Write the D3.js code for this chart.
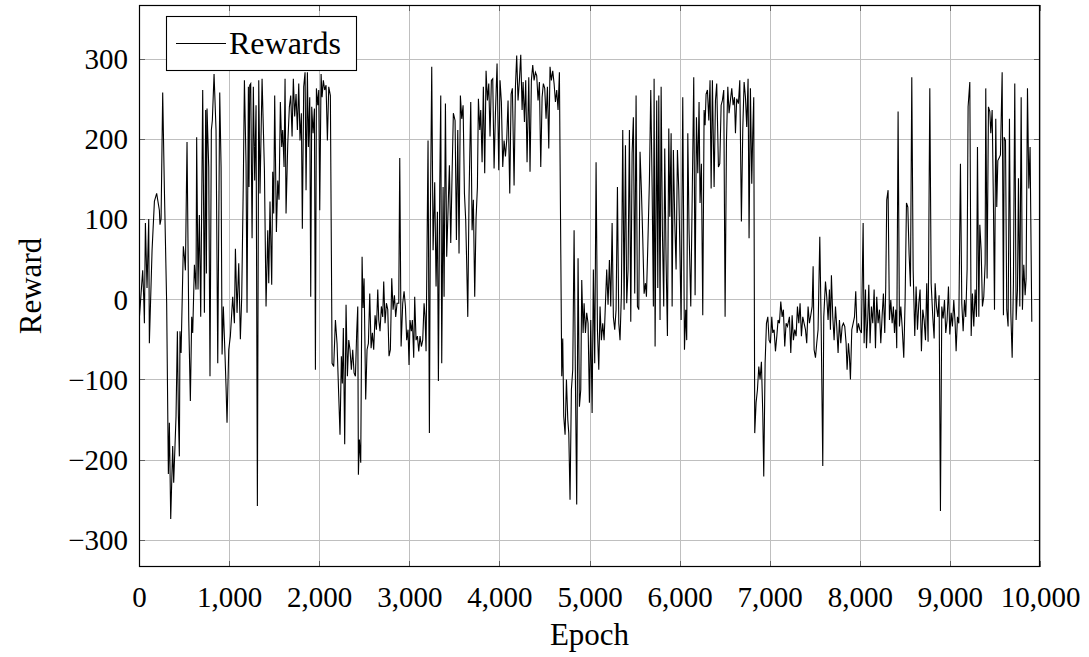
<!DOCTYPE html>
<html><head><meta charset="utf-8">
<script src="https://cdn.jsdelivr.net/npm/d3@7"></script>
<style>
body{margin:0;background:#fff;}
text{font-family:"Liberation Serif","DejaVu Serif",serif;fill:#000;}
</style></head>
<body><svg id="c" width="1089" height="657"></svg>
<script>
// ---- data: [epoch, reward] ----
const segA = [[0,-30],[41,36],[52,3],[60,-30],[71,95],[89,14],[108,100],[115,-55],[145,61],[171,122],[196,132],[226,111],[233,93],[245,100],[263,258],[282,136],[307,-5],[326,-218],[337,-154],[352,-274],[374,-183],[385,-229],[411,-146],[426,-40],[437,-144],[448,-196],[455,-40],[467,-67],[492,66],[504,53],[515,36],[533,196],[552,-26],[570,-127],[585,-22],[596,-42],[615,43],[633,12],[640,202],[655,12],[670,105],[685,-22],[707,261],[726,-17],[740,236],[748,32],[755,238],[774,165],[788,-96],[803,211],[814,223],[833,281],[855,211],[874,-80],[896,258],[911,165],[922,-69],[936,-9],[955,-71],[966,-109],[977,-154],[996,-63],[1014,-46],[1040,3],[1059,-30],[1070,63],[1088,-17],[1107,45],[1125,-50],[1140,3],[1158,148],[1170,273],[1188,169],[1199,-17],[1214,265],[1221,140],[1229,267],[1240,269],[1255,76],[1269,265],[1284,148],[1299,242],[1314,-258],[1329,273],[1343,132],[1366,275],[1392,161],[1410,-9],[1429,86]];
const segB = [[1440,20],[1454,122],[1473,18],[1484,159],[1495,107],[1506,254],[1525,84],[1540,148],[1554,124],[1569,246],[1584,190],[1595,211],[1610,165],[1621,275],[1632,107],[1651,194],[1669,240],[1684,254],[1699,203],[1713,275],[1728,228],[1743,256],[1758,211],[1773,269],[1787,198],[1802,232],[1813,88],[1828,265],[1843,283],[1854,136],[1869,283],[1880,190],[1895,252],[1906,3],[1917,240],[1932,207],[1947,238],[1958,-88],[1969,263],[1984,242],[1995,261],[2006,111],[2021,281],[2032,252],[2046,273],[2061,261],[2076,267],[2091,198],[2106,265],[2124,254],[2143,-80],[2161,-84],[2180,-26],[2198,-55],[2217,-121],[2231,-169],[2246,-71],[2257,-105],[2268,-36],[2283,-181],[2298,-7],[2313,-96],[2328,-51],[2342,-63],[2357,-88],[2372,-63],[2387,-92],[2402,-96],[2416,-42],[2428,-9],[2435,-219],[2446,-175],[2461,-204],[2476,53],[2487,-11],[2498,26],[2516,-125],[2531,-63],[2546,-55],[2561,7],[2576,-61],[2590,-42],[2605,-63],[2620,-20],[2635,-38],[2650,12],[2661,-26],[2675,-40],[2690,-9],[2705,-22],[2716,22],[2731,-30],[2746,-5],[2761,-13],[2775,-71],[2790,-63],[2805,26],[2820,-13],[2835,5],[2849,-22],[2864,-5]];
const segC = [[2883,-5],[2894,176],[2909,-59],[2927,-5],[2942,10],[2957,-9],[2971,-51],[2986,-38],[2997,-82],[3008,-26],[3023,-40],[3034,-26],[3049,-73],[3060,3],[3075,-51],[3090,-46],[3105,-65],[3119,-46],[3134,-59],[3149,-51],[3164,-5],[3175,-22],[3186,-65],[3208,198],[3223,-167],[3234,103],[3249,290],[3264,61],[3282,146],[3297,16],[3312,109],[3323,-102],[3338,140],[3349,254],[3360,-80],[3375,140],[3386,3],[3401,244],[3415,53],[3430,111],[3445,167],[3460,70],[3475,157],[3489,232],[3508,223],[3523,74],[3538,211],[3552,57],[3567,254],[3582,225],[3597,242],[3612,132],[3626,99],[3637,45],[3649,-22],[3663,128],[3682,246],[3697,86],[3711,124],[3726,3],[3741,101],[3756,140],[3767,250],[3782,211],[3793,236],[3808,171],[3822,265],[3837,157],[3852,285],[3867,248],[3882,269],[3896,203],[3911,273],[3926,275],[3941,163],[3956,232],[3974,294],[3993,161],[4007,273],[4022,246],[4037,165],[4052,198],[4067,178],[4081,198],[4096,248],[4115,132],[4130,256],[4144,263],[4163,142],[4178,265],[4192,304],[4207,248],[4222,273],[4237,305],[4252,236],[4263,271],[4278,221],[4292,273],[4307,171]];
const segD = [[4326,277],[4340,159],[4355,273],[4370,292],[4385,273],[4400,283],[4414,279],[4429,248],[4444,271],[4459,165],[4474,252],[4488,269],[4503,263],[4518,225],[4533,265],[4548,188],[4562,290],[4577,273],[4592,285],[4607,269],[4622,246],[4636,261],[4651,236],[4666,283],[4692,-96],[4703,-49],[4714,-146],[4729,-169],[4744,-100],[4759,-150],[4770,-167],[4784,-250],[4799,-113],[4814,-88],[4829,86],[4844,-105],[4858,-256],[4873,51],[4888,-134],[4903,-113],[4914,24],[4929,-42],[4940,-5],[4955,-42],[4969,-17],[4984,-30],[4999,-129],[5014,-26],[5029,-142],[5043,37],[5058,-80],[5073,171],[5088,-38],[5103,-88],[5117,-9],[5132,-51],[5147,-30],[5162,-51],[5177,-5],[5191,37],[5206,-7],[5221,49],[5236,-9],[5251,95],[5265,-22],[5280,-38],[5295,-13],[5310,140],[5325,-30],[5339,-51],[5354,7],[5369,211],[5384,-13],[5399,192],[5413,-5],[5428,37],[5443,211],[5458,-28],[5473,182],[5487,227],[5502,7],[5517,254],[5532,-9],[5547,-13],[5561,184],[5576,136],[5591,76],[5606,7],[5621,20],[5632,3],[5647,66],[5665,148],[5680,261],[5695,140],[5709,-9],[5717,275],[5728,-59],[5746,248],[5758,14]];
const segE = [[5769,254],[5783,-26],[5795,265],[5809,86],[5824,-9],[5835,188],[5850,49],[5865,-46],[5880,213],[5891,103],[5906,207],[5917,-9],[5931,186],[5946,99],[5961,37],[5976,186],[5991,136],[6005,49],[6017,-26],[6035,252],[6054,-63],[6068,-13],[6079,-51],[6091,207],[6105,86],[6124,-9],[6139,120],[6157,277],[6172,5],[6187,227],[6202,157],[6216,246],[6227,120],[6242,169],[6257,-20],[6272,236],[6283,217],[6294,256],[6309,261],[6324,223],[6338,273],[6350,138],[6364,273],[6383,140],[6398,248],[6412,269],[6431,165],[6446,169],[6461,242],[6475,248],[6490,261],[6505,-22],[6520,196],[6535,265],[6549,232],[6564,248],[6579,263],[6594,242],[6609,252],[6620,207],[6634,250],[6653,244],[6668,273],[6686,97],[6701,211],[6716,271],[6731,252],[6745,215],[6760,275],[6771,76],[6786,263],[6801,144],[6812,207],[6823,252],[6834,-167],[6849,-129],[6864,-113],[6879,-84],[6893,-100],[6908,-78],[6923,-142],[6934,-221],[6949,-80],[6964,-30],[6979,-22],[6993,-51],[7008,-55],[7023,-22],[7034,-42],[7049,-38],[7064,-65],[7079,-46],[7093,-26],[7108,-30],[7123,-3],[7138,-22],[7152,-13],[7167,-59],[7182,-30],[7197,-34]];
const segF = [[7219,-22],[7234,-67],[7249,-20],[7263,-51],[7278,-38],[7293,-46],[7308,-9],[7323,-30],[7337,-5],[7352,-46],[7367,-22],[7382,-30],[7397,-38],[7411,-55],[7426,-9],[7441,-30],[7456,-20],[7471,-9],[7482,41],[7493,-63],[7508,-73],[7522,-55],[7537,-38],[7556,78],[7571,-30],[7589,-208],[7600,-22],[7619,22],[7633,3],[7648,-26],[7663,12],[7674,-38],[7685,30],[7700,-22],[7715,-51],[7730,-9],[7744,-34],[7759,-67],[7774,-26],[7789,-55],[7804,-34],[7818,-30],[7833,-34],[7848,-55],[7859,-88],[7874,-55],[7885,-71],[7896,-100],[7911,-38],[7926,-30],[7941,-22],[7955,10],[7970,-42],[7985,-30],[8000,-38],[8018,-42],[8037,95],[8048,-55],[8063,12],[8074,-61],[8089,-22],[8100,18],[8114,-55],[8129,-9],[8144,-30],[8159,12],[8174,-61],[8188,3],[8203,-30],[8218,-13],[8233,-55],[8248,-20],[8262,7],[8277,-42],[8288,16],[8299,124],[8314,136],[8329,-26],[8344,-1],[8359,-30],[8373,-9],[8385,-42],[8399,-13],[8410,-61],[8425,234],[8440,-34],[8455,-9],[8470,-34],[8488,-73],[8503,-1],[8518,120],[8533,115],[8547,57],[8562,16],[8577,277],[8592,37],[8610,-46],[8625,16],[8640,-38]];
const segG = [[8655,-5],[8669,12],[8684,-65],[8699,-13],[8714,-26],[8729,-51],[8743,20],[8758,-53],[8777,263],[8792,20],[8810,-22],[8825,-49],[8836,20],[8851,-9],[8866,-22],[8880,5],[8895,-264],[8910,-9],[8925,-24],[8940,-1],[8954,-42],[8969,-26],[8984,16],[8999,-44],[9014,-17],[9028,-34],[9043,-1],[9058,-30],[9069,-65],[9084,-22],[9099,-30],[9117,169],[9132,-5],[9147,-40],[9162,-1],[9176,-22],[9191,37],[9202,240],[9221,271],[9236,-46],[9250,7],[9265,-34],[9280,12],[9295,-22],[9306,190],[9321,-22],[9332,93],[9347,61],[9361,-9],[9376,3],[9391,45],[9398,263],[9413,26],[9428,240],[9443,234],[9454,207],[9469,236],[9483,120],[9495,-13],[9509,225],[9520,115],[9532,173],[9546,176],[9561,180],[9580,283],[9594,-20],[9602,202],[9617,198],[9631,-13],[9646,-34],[9661,225],[9676,-17],[9691,-73],[9705,20],[9720,269],[9735,-26],[9750,12],[9761,151],[9776,-9],[9791,252],[9805,-13],[9820,43],[9835,5],[9846,26],[9861,263],[9876,138],[9890,190],[9909,-28]];

const xTicks = [0,1000,2000,3000,4000,5000,6000,7000,8000,9000,10000];
const yTicks = [-300,-200,-100,0,100,200,300];
const seriesName = "Rewards";
const xLabel = "Epoch";
const yLabel = "Reward";

const data = [].concat(segA, segB, segC, segD, segE, segF, segG);

const svg = d3.select("#c");
const L = 139, R = 1040, T = 5, B = 567;
const x = d3.scaleLinear().domain([0, 10000]).range([L, R]);
const y = d3.scaleLinear().domain([-334, 367]).range([B, T]);

// grid
const grid = svg.append("g").attr("stroke", "#bfbfbf").attr("stroke-width", 1);
grid.selectAll(".gx").data(xTicks).join("line")
  .attr("x1", d => Math.round(x(d)) + 0.5).attr("x2", d => Math.round(x(d)) + 0.5)
  .attr("y1", T).attr("y2", B);
grid.selectAll(".gy").data(yTicks).join("line")
  .attr("y1", d => Math.round(y(d)) + 0.5).attr("y2", d => Math.round(y(d)) + 0.5)
  .attr("x1", L).attr("x2", R);

// tick marks (inside, all four sides)
const tk = svg.append("g").attr("stroke", "#606060").attr("stroke-width", 1);
xTicks.forEach(d => {
  const px = Math.round(x(d)) + 0.5;
  tk.append("line").attr("x1", px).attr("x2", px).attr("y1", B).attr("y2", B - 6);
  tk.append("line").attr("x1", px).attr("x2", px).attr("y1", T).attr("y2", T + 6);
});
yTicks.forEach(d => {
  const py = Math.round(y(d)) + 0.5;
  tk.append("line").attr("y1", py).attr("y2", py).attr("x1", L).attr("x2", L + 6);
  tk.append("line").attr("y1", py).attr("y2", py).attr("x1", R).attr("x2", R - 6);
});

// line
const clipId = "clipPlot";
svg.append("clipPath").attr("id", clipId).append("rect")
  .attr("x", L).attr("y", T).attr("width", R - L).attr("height", B - T);
svg.append("path").datum(data)
  .attr("clip-path", `url(#${clipId})`)
  .attr("fill", "none").attr("stroke", "#000").attr("stroke-width", 1.1)
  .attr("stroke-linejoin", "miter")
  .attr("d", d3.line().x(d => x(d[0])).y(d => y(d[1])));

// frame
svg.append("rect").attr("x", L + 0.5).attr("y", T + 0.5).attr("width", R - L - 1).attr("height", B - T - 1)
  .attr("fill", "none").attr("stroke", "#000").attr("stroke-width", 1.2);

// axes labels via d3 axes
const fmtX = d3.format(",");
const xAxis = svg.append("g").attr("transform", `translate(0,${B})`)
  .call(d3.axisBottom(x).tickValues(xTicks).tickFormat(fmtX).tickSize(0).tickPadding(19));
xAxis.select(".domain").remove();
xAxis.selectAll("text").attr("font-size", 29).attr("font-family", "Liberation Serif").attr("dy", "0.71em");

const yAxis = svg.append("g").attr("transform", `translate(${L},0)`)
  .call(d3.axisLeft(y).tickValues(yTicks).tickFormat(d3.format("d")).tickSize(0).tickPadding(11));
yAxis.select(".domain").remove();
yAxis.selectAll("text").attr("font-size", 29).attr("font-family", "Liberation Serif").attr("dy", "0.34em");

svg.append("text").attr("x", (L + R) / 2).attr("y", 645).attr("text-anchor", "middle")
  .attr("font-size", 31).text(xLabel);
svg.append("text").attr("transform", `translate(41,${(T + B) / 2}) rotate(-90)`)
  .attr("text-anchor", "middle").attr("font-size", 31).text(yLabel);

// legend
const lg = svg.append("g");
lg.append("rect").attr("x", 166.5).attr("y", 16.5).attr("width", 190).attr("height", 54)
  .attr("fill", "#fff").attr("stroke", "#000").attr("stroke-width", 1.1);
lg.append("line").attr("x1", 176).attr("x2", 226).attr("y1", 43.5).attr("y2", 43.5)
  .attr("stroke", "#000").attr("stroke-width", 1.1);
lg.append("text").attr("x", 229).attr("y", 54).attr("font-size", 32).text(seriesName);
</script></body></html>
